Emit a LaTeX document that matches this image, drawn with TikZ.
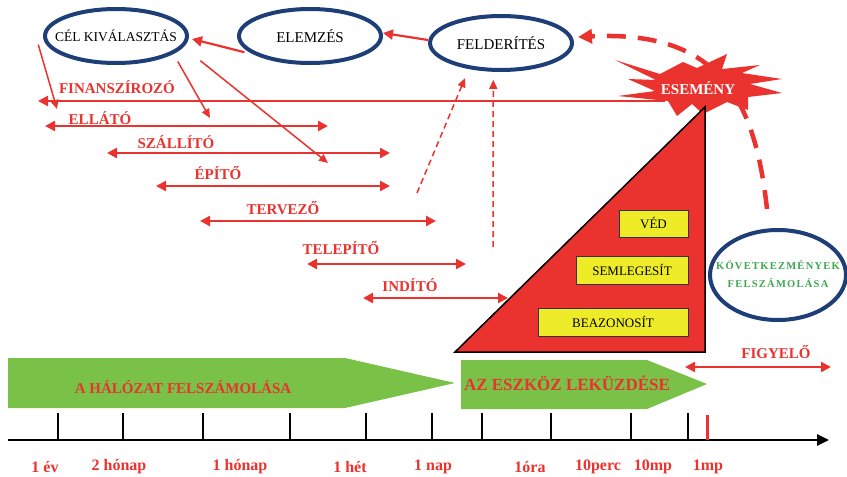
\documentclass[tikz,border=0pt]{standalone}
\usepackage{fontspec}
\setmainfont{Liberation Serif}
\newfontfamily\spacedfont[LetterSpace=12]{Liberation Serif}
\usetikzlibrary{arrows.meta,shapes.geometric,calc}
\definecolor{tred}{RGB}{234,50,46}
\definecolor{navy}{RGB}{30,62,120}
\definecolor{gfill}{RGB}{122,193,72}
\definecolor{ybox}{RGB}{238,236,40}
\definecolor{gtext}{RGB}{60,168,78}
\tikzset{
  ell/.style={ellipse, draw=navy, line width=4pt, fill=white, inner sep=0pt,
    minimum width=142pt, minimum height=54pt, font=\fontsize{15}{17}\selectfont},
  harr/.style={tred, line width=2.2pt, {Triangle[length=10pt,width=10pt]}-{Triangle[length=10pt,width=10pt]}},
  larr/.style={tred, line width=2.2pt, {Triangle[length=10pt,width=10pt]}-},
  rarr/.style={tred, line width=2.2pt, -{Triangle[length=10pt,width=10pt]}},
  thinarr/.style={tred, line width=1.5pt, -{Triangle[length=9pt,width=8pt]}},
  dasharr/.style={tred, line width=1.5pt, dash pattern=on 6pt off 4pt, -{Triangle[length=9pt,width=8pt]}},
  lab/.style={text=tred, font=\fontsize{15}{17}\selectfont\bfseries, inner sep=0pt},
  tlab/.style={text=tred, font=\fontsize{16}{18}\selectfont\bfseries, inner sep=0pt},
  ybx/.style={draw=black!80, line width=1pt, fill=ybox, inner sep=0pt, font=\fontsize{13}{15}\selectfont},
}
\begin{document}
\begin{tikzpicture}[x=1pt,y=-1pt]
\useasboundingbox (0,0) rectangle (847,477);

% ellipses
\node[ell, font=\fontsize{13.5}{15}\selectfont] (cel) at (116,36) {\makebox[0pt]{CÉL KIVÁLASZTÁS}};
\node[ell] (elem) at (310,36) {\makebox[0pt]{ELEMZÉS}};
\node[ell] (fel) at (501,43) {\makebox[0pt]{FELDERÍTÉS}};
\node[ell, minimum width=136pt, minimum height=90pt] (kov) at (778,275)
  {\makebox[0pt]{\begin{tabular}{@{}c@{}}\color{gtext}\spacedfont\fontsize{10.5}{17}\selectfont\bfseries KÖVETKEZMÉNYEK\\[1pt]
   \color{gtext}\spacedfont\fontsize{10.5}{17}\selectfont\bfseries FELSZÁMOLÁSA\end{tabular}}};

% big dashed curve (behind the star)
\draw[tred, line width=4.5pt, dash pattern=on 19pt off 12pt, -{Triangle[length=14pt,width=14pt]}]
  ([shift={(-11pt,19pt)}]kov.north) .. controls (755,100) and (720,30) .. ([shift={(4pt,6pt)}]fel.east);

% FINANSZIROZO line under star
\coordinate (esemc) at (698,88);
\coordinate (finL) at (38,101);
\coordinate (finR) at (665,101);
\draw[larr] (finL) -- (finR);
% star shape
\fill[tred] (615,60) -- (660,74) -- (683,62) -- (697,68) -- (727,54) -- (722,69) -- (760,65)
  -- (742,73) -- (782,79) -- (750,84) -- (782,93) -- (748,97) -- (748,110) -- (727,102)
  -- (703,114) -- (692,104) -- (677,116) -- (668,101) -- (618,96) -- (655,91) -- (628,79)
  -- (656,80) -- cycle;

% triangle
\coordinate (tt) at (705,107);
\coordinate (tl) at (455,352);
\coordinate (tr) at (705,352);
\filldraw[fill=tred, draw=black, line width=1.5pt] (tt) -- (tl) -- (tr) -- cycle;
\node[text=white, font=\fontsize{15}{17}\selectfont\bfseries, inner sep=0pt] (esem) at (esemc) {ESEMÉNY};

% yellow boxes
\node[ybx, minimum width=69pt, minimum height=27pt] (ved) at (653.5,223.5) {VÉD};
\node[ybx, minimum width=112pt, minimum height=28pt] (sem) at (632,270) {SEMLEGESÍT};
\node[ybx, minimum width=150pt, minimum height=28pt] (bea) at (613,322) {BEAZONOSÍT};

% arrows between ellipses
\draw[rarr] ([yshift=3pt]fel.west) -- ([yshift=3pt]elem.east);
\draw[rarr] ([xshift=-5pt]elem.195) -- ([xshift=3pt,yshift=-3pt]cel.east);

% arrows from CEL down
\coordinate (c1) at (57,109);
\coordinate (c2) at (210,118);
\coordinate (c3) at (328,163);
\draw[thinarr] ([xshift=-8pt]cel.187) -- (c1);
\draw[thinarr] ([xshift=8pt,yshift=-6pt]cel.-20) -- (c2);
\draw[thinarr] ([xshift=20pt,yshift=-11pt]cel.-12) -- (c3);

% dashed arrows up to FELDERITES
\coordinate (d1) at (417,193);
\coordinate (d2) at (493,247);
\draw[dasharr] (d1) -- ([yshift=-10pt]fel.215);
\draw[dasharr] (d2) -- ([yshift=-8pt]fel.255);

% horizontal role arrows
\node[lab] (fin) at (117,87) {FINANSZÍROZÓ};
\coordinate (e1) at (45,126); \coordinate (e2) at (328,126);
\draw[harr] (e1) -- (e2);
\node[lab] (ell) at (100,118) {ELLÁTÓ};
\coordinate (s1) at (107,153); \coordinate (s2) at (390,153);
\draw[harr] (s1) -- (s2);
\node[lab] (sza) at (176,142) {SZÁLLÍTÓ};
\coordinate (p1) at (156,186); \coordinate (p2) at (390,186);
\draw[harr] (p1) -- (p2);
\node[lab] (epi) at (218,173) {ÉPÍTŐ};
\coordinate (v1) at (200,221); \coordinate (v2) at (436,221);
\draw[harr] (v1) -- (v2);
\node[lab] (ter) at (283,208) {TERVEZŐ};
\coordinate (l1) at (307,264); \coordinate (l2) at (466,264);
\draw[harr] (l1) -- (l2);
\node[lab] (tel) at (341,248) {TELEPÍTŐ};
\coordinate (i1) at (363,298); \coordinate (i2) at (508,298);
\draw[harr] (i1) -- (i2);
\node[lab] (ind) at (410,285) {INDÍTÓ};
\coordinate (f1) at (685,367); \coordinate (f2) at (831,367);
\draw[harr] (f1) -- (f2);
\node[lab] (fig) at (776,352) {FIGYELŐ};

% green arrows
\fill[gfill] (8,358) -- (345,358) -- (455,383) -- (345,408) -- (8,408) -- cycle;
\node[text=tred, font=\fontsize{15}{17}\selectfont\bfseries, inner sep=0pt] (hal) at (183,387) {A HÁLÓZAT FELSZÁMOLÁSA};
\fill[gfill] (461,360) -- (647,360) -- (707,384) -- (647,409) -- (461,409) -- cycle;
\node[text=tred, font=\fontsize{17}{19}\selectfont\bfseries, inner sep=0pt] (esz) at (567,383) {AZ ESZKÖZ LEKÜZDÉSE};

% timeline
\coordinate (ax0) at (8,440);
\coordinate (ax1) at (829,440);
\draw[line width=2.5pt, -{Triangle[length=12pt,width=11pt]}] (ax0) -- (ax1);
\foreach \x in {58,123,203,290,366,432,482,551,631,688}
  \draw[line width=2pt] (\x,413) -- (\x,440);
\draw[tred, line width=3pt] (707,415) -- (707,440);

\foreach \x/\t/\n in {45/1 év/a,119/2 hónap/b,240/1 hónap/c,350/1 hét/d,433/1 nap/e,530/1óra/f,598/10perc/g,653/10mp/h,708/1mp/i}
  \node[tlab] (t\n) at (\x,467) {\t};
\end{tikzpicture}
\end{document}
